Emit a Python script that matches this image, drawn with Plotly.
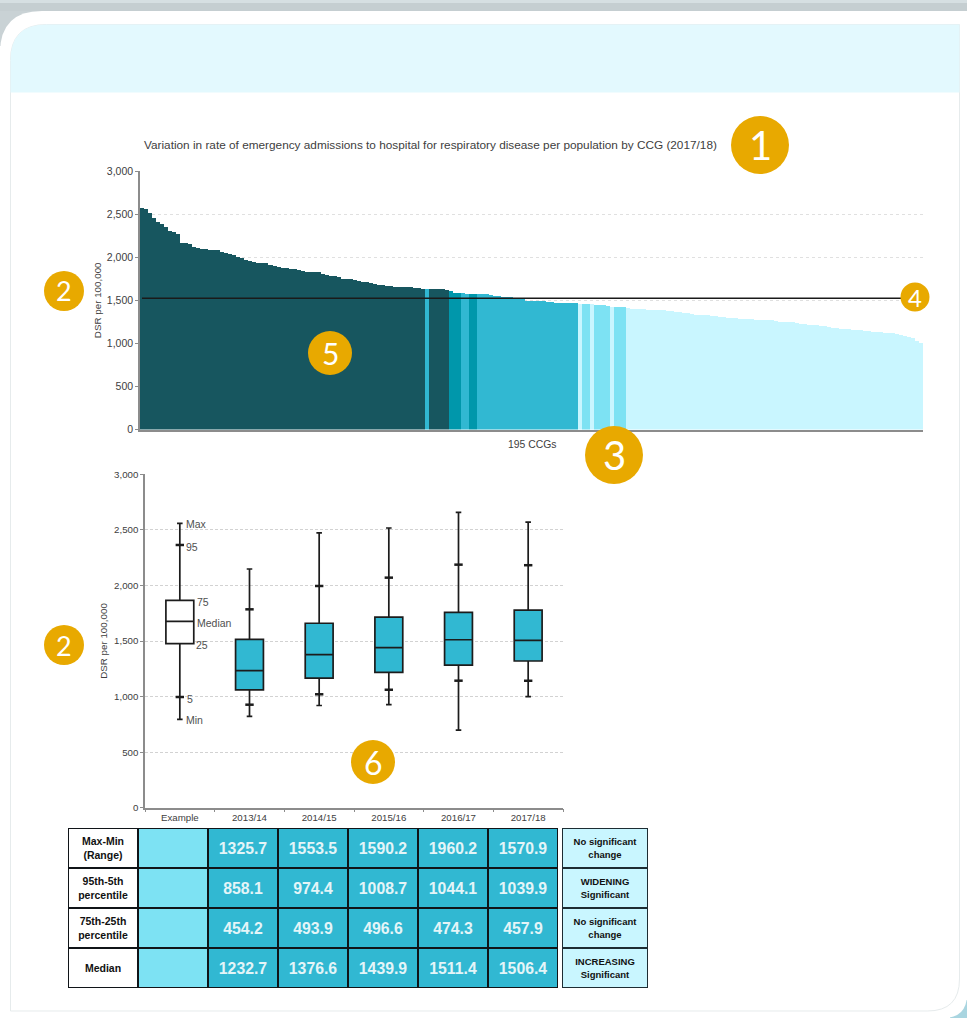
import plotly.graph_objects as go

W, H = 967, 1018

# ---------- data ----------
ccg_rates = [
 2566,2558,2508,2450,2411,2380,2353,2303,2290,2268,
 2168,2164,2152,2113,2108,2100,2092,2085,2083,2080,
 2065,2052,2040,2025,2000,1986,1968,1951,1940,1932,
 1930,1928,1915,1900,1889,1880,1872,1865,1860,1850,
 1835,1831,1829,1828,1827,1800,1795,1785,1781,1776,
 1752,1750,1742,1730,1719,1716,1713,1695,1690,1682,
 1675,1668,1661,1660,1659,1658,1657,1650,1645,1638,
 1632,1630,1629,1628,1627,1626,1618,1610,1585,1583,
 1580,1576,1572,1571,1570,1569,1568,1560,1552,1545,
 1540,1536,1533,1530,1528,1510,1496,1494,1492,1490,
 1487,1484,1480,1472,1466,1464,1463,1463,1463,1462,
 1456,1455,1452,1449,1445,1442,1435,1425,1422,1419,
 1417,1412,1404,1399,1396,1394,1392,1390,1388,1387,
 1386,1380,1372,1367,1362,1358,1355,1345,1333,1331,
 1328,1325,1320,1316,1310,1304,1298,1294,1292,1288,
 1285,1282,1278,1275,1273,1271,1270,1268,1256,1250,
 1248,1245,1243,1235,1226,1222,1218,1214,1210,1206,
 1204,1186,1182,1178,1172,1168,1163,1160,1156,1152,
 1148,1146,1138,1130,1127,1123,1120,1116,1108,1096,
 1084,1072,1060,1026,999]
group_runs = [("q1",71),("q2b",1),("q1",5),("q2a",3),("q2b",2),("q2a",2),("q2b",25),
              ("q4",1),("q3",2),("q4",1),("q3",4),("q4",1),("q3",3),("q4",74)]
national_value = 1523

box_years = ["Example","2013/14","2014/15","2015/16","2016/17","2017/18"]
box_min   = [795, 822.3, 919.5, 926.8, 697.8, 999.1]
box_p5    = [996, 926.9, 1020.6, 1061.3, 1142.9, 1142.1]
box_q1    = [1476, 1059.8, 1166, 1218.4, 1283.7, 1320.1]
box_med   = [1677, 1232.7, 1376.6, 1439.9, 1511.4, 1506.4]
box_q3    = [1866, 1514, 1659.9, 1715, 1758, 1778]
box_p95   = [2364, 1785, 1995, 2070, 2187, 2182]
box_max   = [2559, 2148, 2473, 2517, 2658, 2570]
example_labels = [("Max",2559),("95",2364),("75",1866),("Median",1677),("25",1476),("5",996),("Min",795)]

table_rows = ["<b>Max-Min<br>(Range)</b>","<b>95th-5th<br>percentile</b>",
              "<b>75th-25th<br>percentile</b>","<b>Median</b>"]
t_2013 = ["<b>1325.7</b>","<b>858.1</b>","<b>454.2</b>","<b>1232.7</b>"]
t_2014 = ["<b>1553.5</b>","<b>974.4</b>","<b>493.9</b>","<b>1376.6</b>"]
t_2015 = ["<b>1590.2</b>","<b>1008.7</b>","<b>496.6</b>","<b>1439.9</b>"]
t_2016 = ["<b>1960.2</b>","<b>1044.1</b>","<b>474.3</b>","<b>1511.4</b>"]
t_2017 = ["<b>1570.9</b>","<b>1039.9</b>","<b>457.9</b>","<b>1506.4</b>"]
trend = ["<b>No significant<br>change</b>","<b>WIDENING<br>Significant</b>",
         "<b>No significant<br>change</b>","<b>INCREASING<br>Significant</b>"]
badges = [("1",760,145,29,40),("2",64,291,20,27),("3",614,455,29,40),("4",915,297,14.5,24),
          ("5",330,353,22,30),("2",64,645,20,27),("6",373,762,22,32)]

# ---------- helpers ----------
GROUP_COL = {"q1":"#17565f","q2a":"#0097ab","q2b":"#31b8d2","q3":"#7de2f3","q4":"#c9f6ff"}
LABEL_SHIFT = {"Max":(4,-1),"95":(4,-2),"75":(15,-1.5),"Median":(15.5,-1.5),"25":(14,-1),"5":(5.5,-2),"Min":(4,-1)}
FONT = "Liberation Sans"
AX = "#8c8c8c"
GREY = "#404040"
def px(x): return x / W
def py(y): return 1 - y / H
colors = [GROUP_COL[g] for g, n in group_runs for _ in range(n)]

def rounded(x0, y0, x1, y1, tl, br):
    s = [f"M{px(x0):.5f},{py(y0+tl):.5f}",
         f"Q{px(x0):.5f},{py(y0):.5f} {px(x0+tl):.5f},{py(y0):.5f}",
         f"L{px(x1):.5f},{py(y0):.5f}",
         f"L{px(x1):.5f},{py(y1-br):.5f}"]
    if br: s.append(f"Q{px(x1):.5f},{py(y1):.5f} {px(x1-br):.5f},{py(y1):.5f}")
    s.append(f"L{px(x0):.5f},{py(y1):.5f}")
    return " ".join(s) + " Z"

def path_shape(d, fill, line="rgba(0,0,0,0)", lw=0):
    return dict(type="path", xref="paper", yref="paper", path=d, fillcolor=fill,
                line=dict(color=line, width=lw), layer="below")
def rect(x0, y0, x1, y1, fill):
    return dict(type="rect", xref="paper", yref="paper", x0=px(x0), x1=px(x1), y0=py(y1), y1=py(y0),
                fillcolor=fill, line=dict(width=0), layer="below")

shapes = [
    rect(0, 0, 46, 46, "#c9d2d5"),
    rect(0, 0, 967, 3, "#d6dfe2"),
    rect(0, 3, 967, 11, "#c5ced1"),
    rect(950, 1000, 967, 1018, "#a9d5e0"),
    path_shape(rounded(0, 11, 967, 1018, 42, 24), "#ffffff"),
    path_shape(rounded(10.5, 24.5, 959.5, 1011, 36, 32), "#ffffff", "#e6ebec", 1),
    path_shape(rounded(10.5, 24.5, 959.5, 92.5, 36, 0), "#e3f9fe"),
    # table frames seen through the cell gaps
    rect(68, 828, 558, 988, "#101418"),
    rect(562, 828, 648, 988, "#1d2c33"),
]

annotations = [
    dict(text="Variation in rate of emergency admissions to hospital for respiratory disease per population by CCG (2017/18)",
         xref="paper", yref="paper", x=px(430.5), y=py(145), xanchor="center", yanchor="middle", showarrow=False,
         font=dict(family=FONT, size=11.8, color=GREY)),
    dict(text="195 CCGs", xref="paper", yref="paper", x=px(532), y=py(444), xanchor="center", yanchor="middle",
         showarrow=False, font=dict(family=FONT, size=10.4, color=GREY)),
]
for lab, v in example_labels:
    annotations.append(dict(text=lab, xref="x2", yref="y2", x=0, y=v, xanchor="left", yanchor="middle", showarrow=False,
                            xshift=LABEL_SHIFT[lab][0], yshift=LABEL_SHIFT[lab][1],
                            font=dict(family=FONT, size=10.5, color="#505050")))
for txt, x, y, r, fs in badges:
    shapes.append(dict(type="circle", xref="paper", yref="paper", x0=px(x-r), x1=px(x+r),
                       y0=py(y+r), y1=py(y-r), fillcolor="#e8a900", line=dict(width=0), layer="above"))
    annotations.append(dict(text=txt, xref="paper", yref="paper", x=px(x), y=py(y), xanchor="center",
                            yanchor="middle", showarrow=False,
                            font=dict(family="Lato", size=fs, color="#ffffff")))

fig = go.Figure()
ids = list(range(1, len(ccg_rates) + 1))
fig.add_trace(go.Bar(x=ids, y=ccg_rates, marker=dict(color=colors, line=dict(width=0)),
                     width=1, showlegend=False, xaxis="x", yaxis="y"))
fig.add_trace(go.Scatter(x=[ids[0], ids[-1]], y=[national_value]*2, mode="lines",
                         line=dict(color="#1a1a1a", width=1.6), showlegend=False, xaxis="x", yaxis="y"))

for i, yr in enumerate(box_years):
    fig.add_trace(go.Box(x=[yr], q1=[box_q1[i]], median=[box_med[i]], q3=[box_q3[i]],
                         lowerfence=[box_min[i]], upperfence=[box_max[i]],
                         fillcolor="#ffffff" if i == 0 else "#31b8d2",
                         line=dict(color="#1c1c1c", width=1.7), width=0.4, whiskerwidth=0.2,
                         boxpoints=False, showlegend=False, xaxis="x2", yaxis="y2"))
fig.add_trace(go.Scatter(x=box_years + box_years, y=box_p5 + box_p95, mode="markers",
                         marker=dict(symbol="line-ew", size=6, line=dict(color="#1c1c1c", width=2.5)),
                         showlegend=False, xaxis="x2", yaxis="y2"))

def table_col(xs, columns, color, size, txtcol, xaxis):
    """One block of equally styled table cells; rows 0-3 from top to bottom."""
    text = [[c[r] for c in columns] for r in range(4)]
    fig.add_trace(go.Heatmap(x=xs, y=[0, 1, 2, 3], z=[[1]*len(xs) for _ in range(4)], text=text,
                             texttemplate="%{text}", textfont=dict(family=FONT, size=size, color=txtcol),
                             colorscale=[[0, color], [1, color]], showscale=False, xgap=2, ygap=2,
                             hoverinfo="skip", xaxis=xaxis, yaxis="y3"))

table_col([0], [table_rows], "#ffffff", 10.5, "#111111", "x3")
table_col([1], [[""]*4], "#7de2f3", 8.5, "#111111", "x3")
table_col([2, 3, 4, 5, 6], [t_2013, t_2014, t_2015, t_2016, t_2017], "#31b8d2", 15.8, "#e4f5f8", "x3")
table_col([0], [trend], "#c9f6ff", 9.5, "#111111", "x4")

top_ticks = dict(family=FONT, size=10.5, color=GREY)
box_ticks = dict(family=FONT, size=9.7, color=GREY)
top_title = dict(text="DSR per 100,000", font=dict(family=FONT, size=9.8, color=GREY), standoff=3)
box_title = dict(text="DSR per 100,000", font=dict(family=FONT, size=9.8, color=GREY), standoff=5)
fig.update_layout(
    width=W, height=H, autosize=False, margin=dict(l=0, r=0, t=0, b=0, autoexpand=False),
    paper_bgcolor="#ffffff", plot_bgcolor="rgba(0,0,0,0)",
    bargap=0, shapes=shapes, annotations=annotations, font=dict(family=FONT),
    xaxis=dict(domain=[px(140), px(923)], range=[0.5, len(ccg_rates)+0.5], showticklabels=False,
               ticks="", showgrid=False, showline=True, linecolor=AX, linewidth=1.5, zeroline=False),
    yaxis=dict(domain=[py(429.6), py(171)], range=[0, 3000], tickvals=[0,500,1000,1500,2000,2500,3000],
               tickformat=",", ticks="outside", ticklen=3, tickcolor=AX, tickfont=top_ticks,
               showline=True, linecolor=AX, linewidth=1.5, zeroline=False,
               gridcolor="#e0e0e0", griddash="dot", gridwidth=1, title=top_title),
    xaxis2=dict(domain=[px(145), px(563)], range=[-0.5, 5.5], anchor="y2", type="category",
                categoryorder="array", categoryarray=box_years, tickson="boundaries",
                ticks="outside", ticklen=3, tickcolor=AX,
                tickfont=box_ticks, showgrid=False, showline=True,
                linecolor=AX, linewidth=1.5, zeroline=False),
    yaxis2=dict(domain=[py(807.7), py(474.3)], range=[0, 3000], anchor="x2",
                tickvals=[0,500,1000,1500,2000,2500,3000], tickformat=",", ticks="outside", ticklen=3,
                tickcolor=AX, tickfont=box_ticks, showline=True, linecolor=AX, linewidth=1.5,
                zeroline=False, gridcolor="#d2d2d2", griddash="3px,2px", gridwidth=1, title=box_title),
    xaxis3=dict(domain=[px(68), px(558)], range=[-0.5, 6.5], visible=False, anchor="y3"),
    xaxis4=dict(domain=[px(562), px(648)], range=[-0.5, 0.5], visible=False, anchor="y3"),
    yaxis3=dict(domain=[py(988), py(828)], range=[3.5, -0.5], visible=False, anchor="x3"),
)
fig.write_html("out.html", config=dict(displayModeBar=False),
               post_script="document.body.style.margin='0';document.body.style.overflow='hidden';")
